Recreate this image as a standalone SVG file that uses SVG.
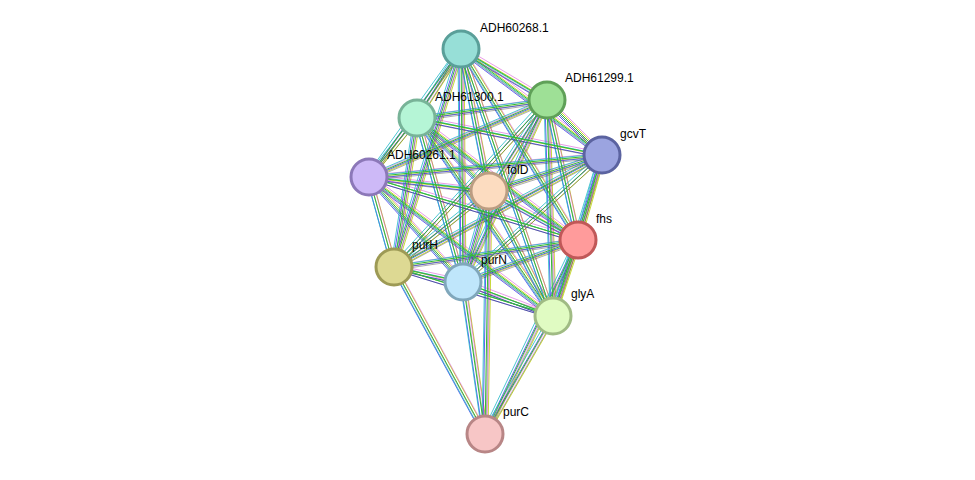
<svg xmlns="http://www.w3.org/2000/svg" xmlns:xlink="http://www.w3.org/1999/xlink" width="975" height="480" viewBox="0 0 975 480">
<style>
.n{stroke-width:3}
text{font-family:"Liberation Sans",Arial,sans-serif;font-size:12px;fill:#000}
#E line{fill:none;stroke-width:1}
</style>
<rect width="975" height="480" fill="#fff"/>
<defs>
<g id="E">
<line x1="461" y1="49" x2="547" y2="100"/><line x1="461" y1="49" x2="417" y2="118"/><line x1="461" y1="49" x2="602" y2="155"/><line x1="461" y1="49" x2="369" y2="177"/><line x1="461" y1="49" x2="489" y2="191"/><line x1="461" y1="49" x2="578" y2="240"/><line x1="461" y1="49" x2="394" y2="267"/><line x1="461" y1="49" x2="463" y2="282"/><line x1="461" y1="49" x2="553" y2="316"/>
<line x1="547" y1="100" x2="417" y2="118"/><line x1="547" y1="100" x2="602" y2="155"/><line x1="547" y1="100" x2="369" y2="177"/><line x1="547" y1="100" x2="489" y2="191"/><line x1="547" y1="100" x2="578" y2="240"/><line x1="547" y1="100" x2="394" y2="267"/><line x1="547" y1="100" x2="463" y2="282"/><line x1="547" y1="100" x2="553" y2="316"/>
<line x1="417" y1="118" x2="602" y2="155"/><line x1="417" y1="118" x2="369" y2="177"/><line x1="417" y1="118" x2="489" y2="191"/><line x1="417" y1="118" x2="578" y2="240"/><line x1="417" y1="118" x2="394" y2="267"/><line x1="417" y1="118" x2="463" y2="282"/><line x1="417" y1="118" x2="553" y2="316"/>
<line x1="602" y1="155" x2="369" y2="177"/><line x1="602" y1="155" x2="489" y2="191"/><line x1="602" y1="155" x2="578" y2="240"/><line x1="602" y1="155" x2="394" y2="267"/><line x1="602" y1="155" x2="463" y2="282"/><line x1="602" y1="155" x2="553" y2="316"/>
<line x1="369" y1="177" x2="489" y2="191"/><line x1="369" y1="177" x2="578" y2="240"/><line x1="369" y1="177" x2="394" y2="267"/><line x1="369" y1="177" x2="463" y2="282"/><line x1="369" y1="177" x2="553" y2="316"/>
<line x1="489" y1="191" x2="578" y2="240"/><line x1="489" y1="191" x2="394" y2="267"/><line x1="489" y1="191" x2="463" y2="282"/><line x1="489" y1="191" x2="553" y2="316"/><line x1="489" y1="191" x2="485" y2="434"/>
<line x1="578" y1="240" x2="394" y2="267"/><line x1="578" y1="240" x2="463" y2="282"/><line x1="578" y1="240" x2="553" y2="316"/><line x1="578" y1="240" x2="485" y2="434"/>
<line x1="394" y1="267" x2="463" y2="282"/><line x1="394" y1="267" x2="553" y2="316"/><line x1="394" y1="267" x2="485" y2="434"/>
<line x1="463" y1="282" x2="553" y2="316"/><line x1="463" y1="282" x2="485" y2="434"/>
<line x1="553" y1="316" x2="485" y2="434"/>
</g>
</defs>
<g id="connectors">
<use xlink:href="#E" stroke="#c8d838" transform="translate(3,1)"/>
<use xlink:href="#E" stroke="#3a3aee" transform="translate(-2,2)" opacity="0.8"/>
<use xlink:href="#E" stroke="#d43cd4" transform="translate(2,-2)" opacity="0.5"/>
<use xlink:href="#E" stroke="#22b8c8" transform="translate(-3,-1)" opacity="0.8"/>
<use xlink:href="#E" stroke="#333" transform="translate(1,3)" opacity="0.4"/>
<use xlink:href="#E" stroke="#33bb33" transform="translate(0,0)"/>
</g>
<g id="ADH60268.1"><circle class="n" cx="461" cy="49" r="18" fill="#97dfd7" stroke="#5a9f99"/><text x="480" y="32">ADH60268.1</text></g>
<g id="ADH61299.1"><circle class="n" cx="547" cy="100" r="18" fill="#9ee096" stroke="#5fa058"/><text x="565" y="82">ADH61299.1</text></g>
<g id="ADH61300.1"><circle class="n" cx="417" cy="118" r="18" fill="#b5f5d6" stroke="#78b398"/><text x="435" y="101">ADH61300.1</text></g>
<g id="gcvT"><circle class="n" cx="602" cy="155" r="18" fill="#9ba4e0" stroke="#5b63a0"/><text x="620" y="138">gcvT</text></g>
<g id="ADH60261.1"><circle class="n" cx="369" cy="177" r="18" fill="#cdb9f7" stroke="#8c78b8"/><text x="387" y="159">ADH60261.1</text></g>
<g id="folD"><circle class="n" cx="489" cy="191" r="18" fill="#fcdcc0" stroke="#bb9d82"/><text x="507" y="174">folD</text></g>
<g id="fhs"><circle class="n" cx="578" cy="240" r="18" fill="#ff9b9b" stroke="#c05858"/><text x="596" y="223">fhs</text></g>
<g id="purH"><circle class="n" cx="394" cy="267" r="18" fill="#ddd993" stroke="#9d9a55"/><text x="412" y="249">purH</text></g>
<g id="purN"><circle class="n" cx="463" cy="282" r="18" fill="#bfe6fb" stroke="#80a7bb"/><text x="481" y="264">purN</text></g>
<g id="glyA"><circle class="n" cx="553" cy="316" r="18" fill="#e0fbc2" stroke="#a0bb84"/><text x="571" y="298">glyA</text></g>
<g id="purC"><circle class="n" cx="485" cy="434" r="18" fill="#f7c6c6" stroke="#b88686"/><text x="503" y="416">purC</text></g>
</svg>
